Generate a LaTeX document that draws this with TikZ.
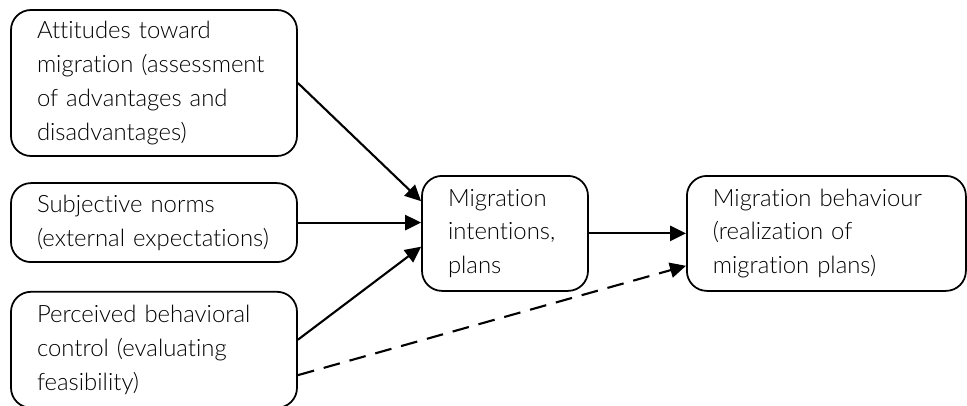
\documentclass[tikz,border=0pt]{standalone}
\usepackage{fontspec}
\setmainfont{Lato Light}[Ligatures={NoCommon,NoRare}]
\usetikzlibrary{arrows.meta}
\usetikzlibrary{positioning}

\tikzset{
	factor/.style = {draw, line width=1.25pt, rounded corners=0.5cm, align=left,
		inner xsep=0.65cm, inner ysep=0pt, font=\fontsize{17}{24}\selectfont},
	link/.style = {line width=1.5pt, -{Triangle[length=0.4cm, width=0.38cm]}}
}

\begin{document}
\begin{tikzpicture}
		\useasboundingbox (0,0) rectangle (24.175,10.125);
		
		% three determinants on the left
		\node[factor, minimum width=7.15cm, minimum height=3.65cm, text width=5.85cm] (attitudes) at (3.85,8.05)
			{Attitudes toward\\migration (assessment\\of advantages and\\disadvantages)};
		\node[factor, minimum width=7.15cm, minimum height=1.975cm, text width=5.85cm] (norms) at (3.85,4.56)
			{Subjective norms\\(external expectations)};
		\node[factor, minimum width=7.15cm, minimum height=2.9cm, text width=5.85cm] (control) at (3.85,1.38)
			{Perceived behavioral\\control (evaluating\\feasibility)};
		
		% intention and behaviour
		\node[factor, minimum width=4.15cm, minimum height=2.875cm, text width=2.85cm] (intention) at (12.625,4.29)
			{Migration\\intentions,\\plans};
		\node[factor, minimum width=6.975cm, minimum height=2.875cm, text width=5.675cm] (behaviour) at (20.66,4.29)
			{Migration behaviour\\(realization of\\migration plans)};
		
		\draw[link] (attitudes.east) -- (intention.159);
		\draw[link] (norms.east) -- (intention.west |- norms.east);
		\draw[link] (control.4) -- (intention.189);
		\draw[link] (intention.east) -- (behaviour.west);
		\draw[link, dash pattern=on 0.42cm off 0.25cm] (control.350) -- (behaviour.193);
		
\end{tikzpicture}
\end{document}
